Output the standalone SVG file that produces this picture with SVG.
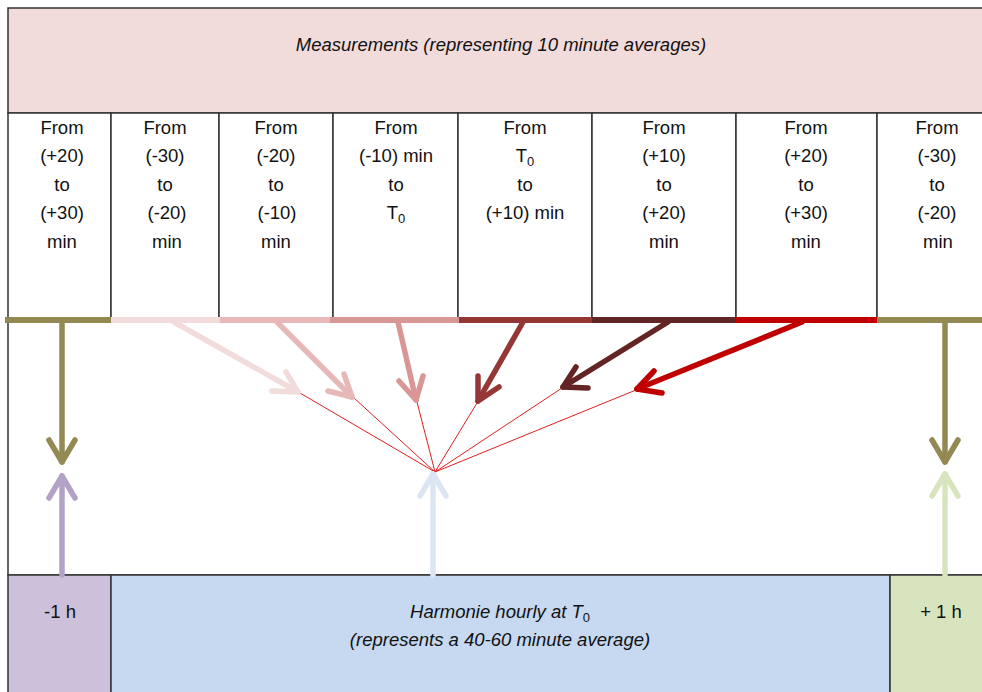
<svg xmlns="http://www.w3.org/2000/svg" width="982" height="692" viewBox="0 0 982 692">
<defs>
<style>
.box{stroke:#333;stroke-width:1.5}
.t{font-family:"Liberation Sans",Arial,sans-serif;font-size:18.5px;fill:#111;text-anchor:middle}
.i{font-style:italic;font-size:18.5px}
.bar{stroke-width:6;fill:none}
.arr{fill:none;stroke-width:5.5;stroke-linecap:round;stroke-linejoin:round}
.thin{stroke:#e02020;stroke-width:1;fill:none}
</style>
</defs>
<rect width="982" height="692" fill="#fff"/>
<g id="measurements">
<rect class="box" x="8" y="8" width="980" height="105" fill="#f2dcdb"/>
<text class="t i" x="501" y="51">Measurements (representing 10 minute averages)</text>
</g>
<g id="middle">
<rect class="box" x="8" y="320" width="980" height="255" fill="#fff"/>
</g>
<g id="cell1"><rect class="box" x="8" y="113" width="103" height="207" fill="#fff"/>
<text class="t" x="62"><tspan x="62" y="134">From</tspan><tspan x="62" y="162">(+20)</tspan><tspan x="62" y="191">to</tspan><tspan x="62" y="219">(+30)</tspan><tspan x="62" y="248">min</tspan></text></g>
<g id="cell2"><rect class="box" x="111" y="113" width="108" height="207" fill="#fff"/>
<text class="t" x="165"><tspan x="165" y="134">From</tspan><tspan x="165" y="162">(-30)</tspan><tspan x="165" y="191">to</tspan><tspan x="167" y="219">(-20)</tspan><tspan x="167" y="248">min</tspan></text></g>
<g id="cell3"><rect class="box" x="219" y="113" width="114" height="207" fill="#fff"/>
<text class="t" x="276"><tspan x="276" y="134">From</tspan><tspan x="276" y="162">(-20)</tspan><tspan x="276" y="191">to</tspan><tspan x="277" y="219">(-10)</tspan><tspan x="276" y="248">min</tspan></text></g>
<g id="cell4"><rect class="box" x="333" y="113" width="125" height="207" fill="#fff"/>
<text class="t" x="396"><tspan x="396" y="134">From</tspan><tspan x="396" y="162">(-10) min</tspan><tspan x="396" y="191">to</tspan><tspan x="396" y="219">T<tspan font-size="13" dy="4">0</tspan></tspan></text></g>
<g id="cell5"><rect class="box" x="458" y="113" width="134" height="207" fill="#fff"/>
<text class="t" x="525"><tspan x="525" y="134">From</tspan><tspan x="525" y="162">T<tspan font-size="13" dy="4">0</tspan></tspan><tspan x="525" y="191">to</tspan><tspan x="525" y="219">(+10) min</tspan></text></g>
<g id="cell6"><rect class="box" x="592" y="113" width="144" height="207" fill="#fff"/>
<text class="t" x="664"><tspan x="664" y="134">From</tspan><tspan x="664" y="162">(+10)</tspan><tspan x="664" y="191">to</tspan><tspan x="664" y="219">(+20)</tspan><tspan x="664" y="248">min</tspan></text></g>
<g id="cell7"><rect class="box" x="736" y="113" width="141" height="207" fill="#fff"/>
<text class="t" x="806"><tspan x="806" y="134">From</tspan><tspan x="806" y="162">(+20)</tspan><tspan x="806" y="191">to</tspan><tspan x="806" y="219">(+30)</tspan><tspan x="806" y="248">min</tspan></text></g>
<g id="cell8"><rect class="box" x="877" y="113" width="111" height="207" fill="#fff"/>
<text class="t" x="937"><tspan x="937" y="134">From</tspan><tspan x="937" y="162">(-30)</tspan><tspan x="937" y="191">to</tspan><tspan x="937" y="219">(-20)</tspan><tspan x="938" y="248">min</tspan></text></g>
<g id="hm1"><rect class="box" x="8" y="575" width="103" height="120" fill="#ccc0da"/>
<text class="t" x="60" y="618">-1 h</text></g>
<g id="harmonie"><rect class="box" x="111" y="575" width="779" height="120" fill="#c6d9f1"/>
<text class="t i" x="500" y="618">Harmonie hourly at T<tspan font-size="13" dy="4" font-style="normal">0</tspan></text>
<text class="t i" x="500" y="646">(represents a 40-60 minute average)</text></g>
<g id="hp1"><rect class="box" x="890" y="575" width="98" height="120" fill="#d7e4bd"/>
<text class="t" x="941" y="618">+ 1 h</text></g>
<g id="connectors">
<line class="bar" x1="5" y1="320" x2="111" y2="320" stroke="#938953"/>
<line class="bar" x1="111" y1="320" x2="220" y2="320" stroke="#f2dcdb"/>
<line class="bar" x1="220" y1="320" x2="330" y2="320" stroke="#e6b9b8"/>
<line class="bar" x1="330" y1="320" x2="459" y2="320" stroke="#d99694"/>
<line class="bar" x1="459" y1="320" x2="592" y2="320" stroke="#953735"/>
<line class="bar" x1="592" y1="320" x2="736" y2="320" stroke="#632523"/>
<line class="bar" x1="736" y1="320" x2="877" y2="320" stroke="#c00000"/>
<line class="bar" x1="877" y1="320" x2="985" y2="320" stroke="#938953"/>
<g class="thin">
<line x1="300" y1="393" x2="435" y2="472"/>
<line x1="354" y1="398" x2="435" y2="472"/>
<line x1="417" y1="402" x2="435" y2="472"/>
<line x1="477" y1="403" x2="435" y2="472"/>
<line x1="562" y1="388" x2="435" y2="472"/>
<line x1="636" y1="390" x2="435" y2="472"/>
</g>
<g class="arr" stroke="#938953"><path d="M62 322 V462"/><path d="M49 440 L62 462 L75 440"/></g>
<g class="arr" stroke="#938953"><path d="M945 322 V462"/><path d="M932 440 L945 462 L958 440"/></g>
<g class="arr" stroke="#b3a2c7"><path d="M62 575 V476"/><path d="M49 498 L62 476 L75 498"/></g>
<g class="arr" stroke="#dce6f2"><path d="M433 575 V474"/><path d="M420 496 L433 474 L446 496"/></g>
<g class="arr" stroke="#d7e4bd"><path d="M945 575 V474"/><path d="M932 496 L945 474 L958 496"/></g>
<g class="arr" stroke="#f2dcdb"><path d="M174 322 L298 392"/><path d="M272 391 L298 392 L286 372"/></g>
<g class="arr" stroke="#e6b9b8"><path d="M277 322 L352 397"/><path d="M328 391 L352 397 L344 374"/></g>
<g class="arr" stroke="#d99694"><path d="M398 322 L416 400"/><path d="M399 381 L416 400 L423 376"/></g>
<g class="arr" stroke="#953735"><path d="M523 322 L478 401"/><path d="M478 376 L478 401 L499 387"/></g>
<g class="arr" stroke="#632523"><path d="M668 322 L563 387"/><path d="M576 367 L563 387 L588 388"/></g>
<g class="arr" stroke="#c00000"><path d="M802 322 L637 389"/><path d="M654 371 L637 389 L662 393"/></g>
</g>
</svg>
